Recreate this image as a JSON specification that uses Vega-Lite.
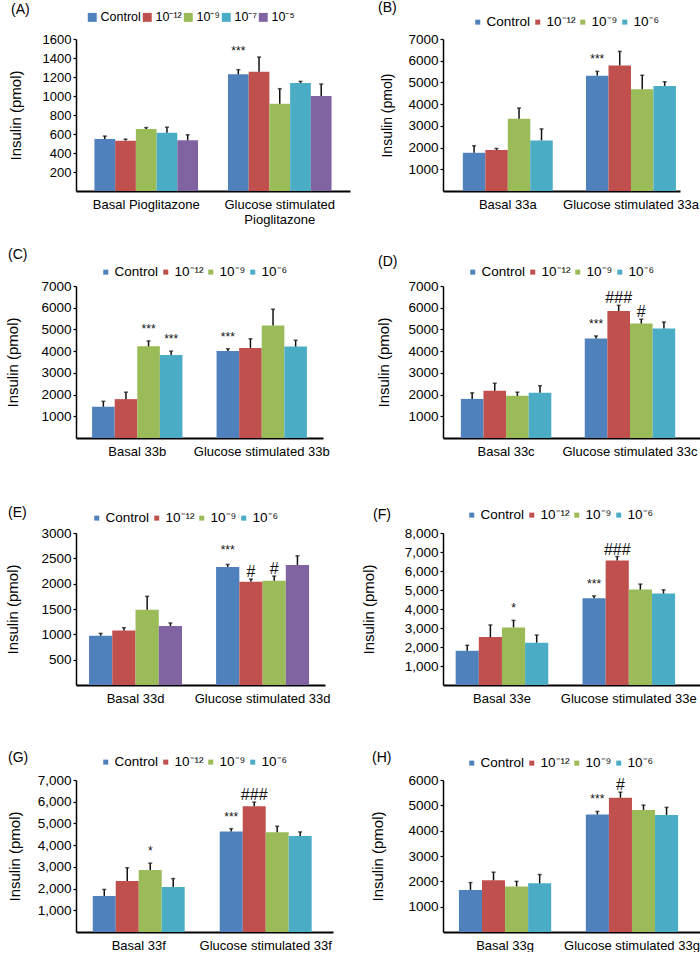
{
  "$schema": "https://vega.github.io/schema/vega-lite/v6.json",
  "padding": {"left": 5, "top": 1, "right": 0, "bottom": 0},
  "background": "white",
  "datasets": {
    "A": [
      {"group": "Basal Pioglitazone", "treatment": "Control", "value": 548, "upper": 578},
      {"group": "Basal Pioglitazone", "treatment": "10⁻¹²", "value": 530, "upper": 545},
      {"group": "Basal Pioglitazone", "treatment": "10⁻⁹", "value": 652, "upper": 668},
      {"group": "Basal Pioglitazone", "treatment": "10⁻⁷", "value": 612, "upper": 672},
      {"group": "Basal Pioglitazone", "treatment": "10⁻⁵", "value": 533, "upper": 592},
      {"group": "Glucose stimulated Pioglitazone", "treatment": "Control", "value": 1228, "upper": 1277, "label": "***"},
      {"group": "Glucose stimulated Pioglitazone", "treatment": "10⁻¹²", "value": 1256, "upper": 1410},
      {"group": "Glucose stimulated Pioglitazone", "treatment": "10⁻⁹", "value": 919, "upper": 1077},
      {"group": "Glucose stimulated Pioglitazone", "treatment": "10⁻⁷", "value": 1137, "upper": 1154},
      {"group": "Glucose stimulated Pioglitazone", "treatment": "10⁻⁵", "value": 1000, "upper": 1126}
    ],
    "B": [
      {"group": "Basal 33a", "treatment": "Control", "value": 1760, "upper": 2080},
      {"group": "Basal 33a", "treatment": "10⁻¹²", "value": 1890, "upper": 1960},
      {"group": "Basal 33a", "treatment": "10⁻⁹", "value": 3330, "upper": 3820},
      {"group": "Basal 33a", "treatment": "10⁻⁶", "value": 2330, "upper": 2860},
      {"group": "Glucose stimulated 33a", "treatment": "Control", "value": 5310, "upper": 5510, "label": "***"},
      {"group": "Glucose stimulated 33a", "treatment": "10⁻¹²", "value": 5780, "upper": 6430},
      {"group": "Glucose stimulated 33a", "treatment": "10⁻⁹", "value": 4690, "upper": 5330},
      {"group": "Glucose stimulated 33a", "treatment": "10⁻⁶", "value": 4840, "upper": 5030}
    ],
    "C": [
      {"group": "Basal 33b", "treatment": "Control", "value": 1440, "upper": 1690},
      {"group": "Basal 33b", "treatment": "10⁻¹²", "value": 1790, "upper": 2110},
      {"group": "Basal 33b", "treatment": "10⁻⁹", "value": 4220, "upper": 4470, "label": "***"},
      {"group": "Basal 33b", "treatment": "10⁻⁶", "value": 3820, "upper": 4000, "label": "***"},
      {"group": "Glucose stimulated 33b", "treatment": "Control", "value": 4010, "upper": 4110, "label": "***"},
      {"group": "Glucose stimulated 33b", "treatment": "10⁻¹²", "value": 4150, "upper": 4570},
      {"group": "Glucose stimulated 33b", "treatment": "10⁻⁹", "value": 5180, "upper": 5930},
      {"group": "Glucose stimulated 33b", "treatment": "10⁻⁶", "value": 4210, "upper": 4500}
    ],
    "D": [
      {"group": "Basal 33c", "treatment": "Control", "value": 1800, "upper": 2080},
      {"group": "Basal 33c", "treatment": "10⁻¹²", "value": 2180, "upper": 2520},
      {"group": "Basal 33c", "treatment": "10⁻⁹", "value": 1940, "upper": 2110},
      {"group": "Basal 33c", "treatment": "10⁻⁶", "value": 2080, "upper": 2410},
      {"group": "Glucose stimulated 33c", "treatment": "Control", "value": 4580, "upper": 4700, "label": "***"},
      {"group": "Glucose stimulated 33c", "treatment": "10⁻¹²", "value": 5850, "upper": 6110, "label": "###"},
      {"group": "Glucose stimulated 33c", "treatment": "10⁻⁹", "value": 5270, "upper": 5470, "label": "#"},
      {"group": "Glucose stimulated 33c", "treatment": "10⁻⁶", "value": 5040, "upper": 5340}
    ],
    "E": [
      {"group": "Basal 33d", "treatment": "Control", "value": 972, "upper": 1019},
      {"group": "Basal 33d", "treatment": "10⁻¹²", "value": 1078, "upper": 1131},
      {"group": "Basal 33d", "treatment": "10⁻⁹", "value": 1485, "upper": 1750},
      {"group": "Basal 33d", "treatment": "10⁻⁶", "value": 1165, "upper": 1225},
      {"group": "Glucose stimulated 33d", "treatment": "Control", "value": 2330, "upper": 2380, "label": "***"},
      {"group": "Glucose stimulated 33d", "treatment": "10⁻¹²", "value": 2040, "upper": 2090, "label": "#"},
      {"group": "Glucose stimulated 33d", "treatment": "10⁻⁹", "value": 2060, "upper": 2150, "label": "#"},
      {"group": "Glucose stimulated 33d", "treatment": "10⁻⁶", "value": 2370, "upper": 2550}
    ],
    "F": [
      {"group": "Basal 33e", "treatment": "Control", "value": 1800, "upper": 2090},
      {"group": "Basal 33e", "treatment": "10⁻¹²", "value": 2520, "upper": 3160},
      {"group": "Basal 33e", "treatment": "10⁻⁹", "value": 3030, "upper": 3400, "label": "*"},
      {"group": "Basal 33e", "treatment": "10⁻⁶", "value": 2230, "upper": 2630},
      {"group": "Glucose stimulated 33e", "treatment": "Control", "value": 4560, "upper": 4690, "label": "***"},
      {"group": "Glucose stimulated 33e", "treatment": "10⁻¹²", "value": 6550, "upper": 6760, "label": "###"},
      {"group": "Glucose stimulated 33e", "treatment": "10⁻⁹", "value": 5020, "upper": 5310},
      {"group": "Glucose stimulated 33e", "treatment": "10⁻⁶", "value": 4810, "upper": 5010}
    ],
    "G": [
      {"group": "Basal 33f", "treatment": "Control", "value": 1660, "upper": 1960},
      {"group": "Basal 33f", "treatment": "10⁻¹²", "value": 2350, "upper": 2960},
      {"group": "Basal 33f", "treatment": "10⁻⁹", "value": 2850, "upper": 3170, "label": "*"},
      {"group": "Basal 33f", "treatment": "10⁻⁶", "value": 2070, "upper": 2460},
      {"group": "Glucose stimulated 33f", "treatment": "Control", "value": 4630, "upper": 4760, "label": "***"},
      {"group": "Glucose stimulated 33f", "treatment": "10⁻¹²", "value": 5790, "upper": 5980, "label": "###"},
      {"group": "Glucose stimulated 33f", "treatment": "10⁻⁹", "value": 4590, "upper": 4870},
      {"group": "Glucose stimulated 33f", "treatment": "10⁻⁶", "value": 4420, "upper": 4610}
    ],
    "H": [
      {"group": "Basal 33g", "treatment": "Control", "value": 1660, "upper": 1950},
      {"group": "Basal 33g", "treatment": "10⁻¹²", "value": 2040, "upper": 2360},
      {"group": "Basal 33g", "treatment": "10⁻⁹", "value": 1800, "upper": 2000},
      {"group": "Basal 33g", "treatment": "10⁻⁶", "value": 1920, "upper": 2270},
      {"group": "Glucose stimulated 33g", "treatment": "Control", "value": 4640, "upper": 4760, "label": "***"},
      {"group": "Glucose stimulated 33g", "treatment": "10⁻¹²", "value": 5300, "upper": 5520, "label": "#"},
      {"group": "Glucose stimulated 33g", "treatment": "10⁻⁹", "value": 4820, "upper": 5010},
      {"group": "Glucose stimulated 33g", "treatment": "10⁻⁶", "value": 4620, "upper": 4920}
    ]
  },
  "concat": [
    {
      "width": 274, "height": 152,
      "data": {"name": "A"},
      "title": {"text": "(A)", "dx": -65, "dy": 10},
      "encoding": {
        "x": {"field": "group", "type": "nominal", "scale": {"paddingInner": 0.224, "paddingOuter": 0.138, "align": 0.5},
              "axis": {"labelExpr": "datum.label == 'Glucose stimulated Pioglitazone' ? ['Glucose stimulated', 'Pioglitazone'] : datum.label"}},
        "xOffset": {"field": "treatment", "sort": ["Control", "10⁻¹²", "10⁻⁹", "10⁻⁷", "10⁻⁵"], "scale": {"paddingInner": 0, "paddingOuter": 0}}
      },
      "layer": [
        {"mark": {"type": "bar"},
         "encoding": {
           "y": {"field": "value", "type": "quantitative", "title": "Insulin (pmol)", "scale": {"domain": [0, 1600]},
                 "axis": {"values": [200, 400, 600, 800, 1000, 1200, 1400, 1600], "format": "d", "labelFontSize": 13, "titlePadding": 18.5}},
           "color": {"field": "treatment", "type": "nominal", "sort": ["Control", "10⁻¹²", "10⁻⁹", "10⁻⁷", "10⁻⁵"],
                     "scale": {"domain": ["Control", "10⁻¹²", "10⁻⁹", "10⁻⁷", "10⁻⁵"], "range": ["#4F81BD", "#C0504D", "#9BBB59", "#4BACC6", "#8064A2"]},
                     "legend": {"title": null, "orient": "none", "direction": "horizontal", "legendX": 10, "legendY": -28, "symbolSize": 80, "columnPadding": -2, "labelFontSize": 12.5}}
         }},
        {"mark": {"type": "rule", "strokeWidth": 1.5, "color": "#111"},
         "encoding": {"y": {"field": "value", "type": "quantitative", "title": "Insulin (pmol)"}, "y2": {"field": "upper"}}},
        {"mark": {"type": "tick", "size": 4, "thickness": 1.5, "color": "#111"},
         "encoding": {"y": {"field": "upper", "type": "quantitative", "title": "Insulin (pmol)"}}},
        {"transform": [{"filter": "isString(datum.label) && indexof(datum.label, '*') >= 0"}],
         "mark": {"type": "text", "fontSize": 12, "baseline": "bottom", "dy": -12, "color": "#111"},
         "encoding": {"y": {"field": "upper", "type": "quantitative", "title": "Insulin (pmol)"}, "text": {"field": "label"}}}
      ]
    },
    {
      "width": 237, "height": 152,
      "data": {"name": "B"},
      "title": {"text": "(B)", "dx": -65, "dy": 4},
      "encoding": {
        "x": {"field": "group", "type": "nominal", "scale": {"paddingInner": 0.27, "paddingOuter": 0.097, "align": 0.83}},
        "xOffset": {"field": "treatment", "sort": ["Control", "10⁻¹²", "10⁻⁹", "10⁻⁶"], "scale": {"paddingInner": 0, "paddingOuter": 0}}
      },
      "layer": [
        {"mark": {"type": "bar"},
         "encoding": {
           "y": {"field": "value", "type": "quantitative", "title": "Insulin (pmol)", "scale": {"domain": [0, 7000]},
                 "axis": {"values": [1000, 2000, 3000, 4000, 5000, 6000, 7000], "format": "d", "titleFontSize": 14, "titlePadding": 13}},
           "color": {"field": "treatment", "type": "nominal", "sort": ["Control", "10⁻¹²", "10⁻⁹", "10⁻⁶"],
                     "scale": {"domain": ["Control", "10⁻¹²", "10⁻⁹", "10⁻⁶"], "range": ["#4F81BD", "#C0504D", "#9BBB59", "#4BACC6"]},
                     "legend": {"title": null, "orient": "none", "direction": "horizontal", "legendX": 28, "legendY": -24}}
         }},
        {"mark": {"type": "rule", "strokeWidth": 1.5, "color": "#111"},
         "encoding": {"y": {"field": "value", "type": "quantitative", "title": "Insulin (pmol)"}, "y2": {"field": "upper"}}},
        {"mark": {"type": "tick", "size": 4, "thickness": 1.5, "color": "#111"},
         "encoding": {"y": {"field": "upper", "type": "quantitative", "title": "Insulin (pmol)"}}},
        {"transform": [{"filter": "isString(datum.label) && indexof(datum.label, '*') >= 0"}],
         "mark": {"type": "text", "fontSize": 12, "baseline": "bottom", "dy": -5, "color": "#111"},
         "encoding": {"y": {"field": "upper", "type": "quantitative", "title": "Insulin (pmol)"}, "text": {"field": "label"}}}
      ]
    },
    {
      "width": 247, "height": 152,
      "data": {"name": "C"},
      "title": {"text": "(C)", "dx": -68, "dy": 1},
      "encoding": {
        "x": {"field": "group", "type": "nominal", "scale": {"paddingInner": 0.274, "paddingOuter": 0.129, "align": 0.5}},
        "xOffset": {"field": "treatment", "sort": ["Control", "10⁻¹²", "10⁻⁹", "10⁻⁶"], "scale": {"paddingInner": 0, "paddingOuter": 0}}
      },
      "layer": [
        {"mark": {"type": "bar"},
         "encoding": {
           "y": {"field": "value", "type": "quantitative", "title": "Insulin (pmol)", "scale": {"domain": [0, 7000]},
                 "axis": {"values": [1000, 2000, 3000, 4000, 5000, 6000, 7000], "format": "d", "titlePadding": 20.5}},
           "color": {"field": "treatment", "type": "nominal", "sort": ["Control", "10⁻¹²", "10⁻⁹", "10⁻⁶"],
                     "scale": {"domain": ["Control", "10⁻¹²", "10⁻⁹", "10⁻⁶"], "range": ["#4F81BD", "#C0504D", "#9BBB59", "#4BACC6"]},
                     "legend": {"title": null, "orient": "none", "direction": "horizontal", "legendX": 23, "legendY": -21}}
         }},
        {"mark": {"type": "rule", "strokeWidth": 1.5, "color": "#111"},
         "encoding": {"y": {"field": "value", "type": "quantitative", "title": "Insulin (pmol)"}, "y2": {"field": "upper"}}},
        {"mark": {"type": "tick", "size": 4, "thickness": 1.5, "color": "#111"},
         "encoding": {"y": {"field": "upper", "type": "quantitative", "title": "Insulin (pmol)"}}},
        {"transform": [{"filter": "isString(datum.label) && indexof(datum.label, '*') >= 0"}],
         "mark": {"type": "text", "fontSize": 12, "baseline": "bottom", "dy": -5, "color": "#111"},
         "encoding": {"y": {"field": "upper", "type": "quantitative", "title": "Insulin (pmol)"}, "text": {"field": "label"}}}
      ]
    },
    {
      "width": 259, "height": 152,
      "data": {"name": "D"},
      "title": {"text": "(D)", "dx": -65, "dy": 8},
      "encoding": {
        "x": {"field": "group", "type": "nominal", "scale": {"paddingInner": 0.27, "paddingOuter": 0.18, "align": 0.4}},
        "xOffset": {"field": "treatment", "sort": ["Control", "10⁻¹²", "10⁻⁹", "10⁻⁶"], "scale": {"paddingInner": 0, "paddingOuter": 0}}
      },
      "layer": [
        {"mark": {"type": "bar"},
         "encoding": {
           "y": {"field": "value", "type": "quantitative", "title": "Insulin (pmol)", "scale": {"domain": [0, 7000]},
                 "axis": {"values": [1000, 2000, 3000, 4000, 5000, 6000, 7000], "format": "d", "titlePadding": 16}},
           "color": {"field": "treatment", "type": "nominal", "sort": ["Control", "10⁻¹²", "10⁻⁹", "10⁻⁶"],
                     "scale": {"domain": ["Control", "10⁻¹²", "10⁻⁹", "10⁻⁶"], "range": ["#4F81BD", "#C0504D", "#9BBB59", "#4BACC6"]},
                     "legend": {"title": null, "orient": "none", "direction": "horizontal", "legendX": 23, "legendY": -21}}
         }},
        {"mark": {"type": "rule", "strokeWidth": 1.5, "color": "#111"},
         "encoding": {"y": {"field": "value", "type": "quantitative", "title": "Insulin (pmol)"}, "y2": {"field": "upper"}}},
        {"mark": {"type": "tick", "size": 4, "thickness": 1.5, "color": "#111"},
         "encoding": {"y": {"field": "upper", "type": "quantitative", "title": "Insulin (pmol)"}}},
        {"transform": [{"filter": "isString(datum.label) && indexof(datum.label, '*') >= 0"}],
         "mark": {"type": "text", "fontSize": 12, "baseline": "bottom", "dy": -5, "color": "#111"},
         "encoding": {"y": {"field": "upper", "type": "quantitative", "title": "Insulin (pmol)"}, "text": {"field": "label"}}},
        {"transform": [{"filter": "isString(datum.label) && indexof(datum.label, '#') >= 0"}],
         "mark": {"type": "text", "fontSize": 16, "baseline": "bottom", "dy": 1, "color": "#111"},
         "encoding": {"y": {"field": "upper", "type": "quantitative", "title": "Insulin (pmol)"}, "text": {"field": "label"}}}
      ]
    },
    {
      "width": 249, "height": 152,
      "data": {"name": "E"},
      "title": {"text": "(E)", "dx": -68, "dy": 13},
      "encoding": {
        "x": {"field": "group", "type": "nominal", "scale": {"paddingInner": 0.268, "paddingOuter": 0.114, "align": 0.45}},
        "xOffset": {"field": "treatment", "sort": ["Control", "10⁻¹²", "10⁻⁹", "10⁻⁶"], "scale": {"paddingInner": 0, "paddingOuter": 0}}
      },
      "layer": [
        {"mark": {"type": "bar"},
         "encoding": {
           "y": {"field": "value", "type": "quantitative", "title": "Insulin (pmol)", "scale": {"domain": [0, 3000]},
                 "axis": {"values": [500, 1000, 1500, 2000, 2500, 3000], "format": "d", "titlePadding": 20.5}},
           "color": {"field": "treatment", "type": "nominal", "sort": ["Control", "10⁻¹²", "10⁻⁹", "10⁻⁶"],
                     "scale": {"domain": ["Control", "10⁻¹²", "10⁻⁹", "10⁻⁶"], "range": ["#4F81BD", "#C0504D", "#9BBB59", "#8064A2"]},
                     "legend": null}
         }},
        {"mark": {"type": "square", "opacity": 0, "filled": true},
         "encoding": {
           "y": {"field": "value", "type": "quantitative", "title": "Insulin (pmol)"},
           "color": {"field": "treatment", "type": "nominal", "sort": ["Control", "10⁻¹²", "10⁻⁹", "10⁻⁶"],
                     "scale": {"domain": ["Control", "10⁻¹²", "10⁻⁹", "10⁻⁶"], "range": ["#4F81BD", "#C0504D", "#9BBB59", "#4BACC6"]},
                     "legend": {"title": null, "orient": "none", "direction": "horizontal", "legendX": 14, "legendY": -22, "symbolOpacity": 1, "symbolType": "square"}}
         }},
        {"mark": {"type": "rule", "strokeWidth": 1.5, "color": "#111"},
         "encoding": {"y": {"field": "value", "type": "quantitative", "title": "Insulin (pmol)"}, "y2": {"field": "upper"}}},
        {"mark": {"type": "tick", "size": 4, "thickness": 1.5, "color": "#111"},
         "encoding": {"y": {"field": "upper", "type": "quantitative", "title": "Insulin (pmol)"}}},
        {"transform": [{"filter": "isString(datum.label) && indexof(datum.label, '*') >= 0"}],
         "mark": {"type": "text", "fontSize": 12, "baseline": "bottom", "dy": -7, "color": "#111"},
         "encoding": {"y": {"field": "upper", "type": "quantitative", "title": "Insulin (pmol)"}, "text": {"field": "label"}}},
        {"transform": [{"filter": "isString(datum.label) && indexof(datum.label, '#') >= 0"}],
         "mark": {"type": "text", "fontSize": 16, "baseline": "bottom", "dy": 1, "color": "#111"},
         "encoding": {"y": {"field": "upper", "type": "quantitative", "title": "Insulin (pmol)"}, "text": {"field": "label"}}}
      ],
      "resolve": {"scale": {"color": "independent"}, "legend": {"color": "independent"}}
    },
    {
      "width": 259, "height": 152,
      "data": {"name": "F"},
      "title": {"text": "(F)", "dx": -70, "dy": 18},
      "encoding": {
        "x": {"field": "group", "type": "nominal", "scale": {"paddingInner": 0.27, "paddingOuter": 0.156, "align": 0.32}},
        "xOffset": {"field": "treatment", "sort": ["Control", "10⁻¹²", "10⁻⁹", "10⁻⁶"], "scale": {"paddingInner": 0, "paddingOuter": 0}}
      },
      "layer": [
        {"mark": {"type": "bar"},
         "encoding": {
           "y": {"field": "value", "type": "quantitative", "title": "Insulin (pmol)", "scale": {"domain": [0, 8000]},
                 "axis": {"values": [1000, 2000, 3000, 4000, 5000, 6000, 7000, 8000], "format": ",d", "titlePadding": 28}},
           "color": {"field": "treatment", "type": "nominal", "sort": ["Control", "10⁻¹²", "10⁻⁹", "10⁻⁶"],
                     "scale": {"domain": ["Control", "10⁻¹²", "10⁻⁹", "10⁻⁶"], "range": ["#4F81BD", "#C0504D", "#9BBB59", "#4BACC6"]},
                     "legend": {"title": null, "orient": "none", "direction": "horizontal", "legendX": 22, "legendY": -25}}
         }},
        {"mark": {"type": "rule", "strokeWidth": 1.5, "color": "#111"},
         "encoding": {"y": {"field": "value", "type": "quantitative", "title": "Insulin (pmol)"}, "y2": {"field": "upper"}}},
        {"mark": {"type": "tick", "size": 4, "thickness": 1.5, "color": "#111"},
         "encoding": {"y": {"field": "upper", "type": "quantitative", "title": "Insulin (pmol)"}}},
        {"transform": [{"filter": "isString(datum.label) && indexof(datum.label, '*') >= 0"}],
         "mark": {"type": "text", "fontSize": 12, "baseline": "bottom", "dy": -5, "color": "#111"},
         "encoding": {"y": {"field": "upper", "type": "quantitative", "title": "Insulin (pmol)"}, "text": {"field": "label"}}},
        {"transform": [{"filter": "isString(datum.label) && indexof(datum.label, '#') >= 0"}],
         "mark": {"type": "text", "fontSize": 16, "baseline": "bottom", "dy": 1, "color": "#111"},
         "encoding": {"y": {"field": "upper", "type": "quantitative", "title": "Insulin (pmol)"}, "text": {"field": "label"}}}
      ]
    },
    {
      "width": 257, "height": 152,
      "data": {"name": "G"},
      "title": {"text": "(G)", "dx": -68, "dy": 14},
      "encoding": {
        "x": {"field": "group", "type": "nominal", "scale": {"paddingInner": 0.276, "paddingOuter": 0.15, "align": 0.44}},
        "xOffset": {"field": "treatment", "sort": ["Control", "10⁻¹²", "10⁻⁹", "10⁻⁶"], "scale": {"paddingInner": 0, "paddingOuter": 0}}
      },
      "layer": [
        {"mark": {"type": "bar"},
         "encoding": {
           "y": {"field": "value", "type": "quantitative", "title": "Insulin (pmol)", "scale": {"domain": [0, 7000]},
                 "axis": {"values": [1000, 2000, 3000, 4000, 5000, 6000, 7000], "format": ",d", "titlePadding": 15}},
           "color": {"field": "treatment", "type": "nominal", "sort": ["Control", "10⁻¹²", "10⁻⁹", "10⁻⁶"],
                     "scale": {"domain": ["Control", "10⁻¹²", "10⁻⁹", "10⁻⁶"], "range": ["#4F81BD", "#C0504D", "#9BBB59", "#4BACC6"]},
                     "legend": {"title": null, "orient": "none", "direction": "horizontal", "legendX": 23, "legendY": -25}}
         }},
        {"mark": {"type": "rule", "strokeWidth": 1.5, "color": "#111"},
         "encoding": {"y": {"field": "value", "type": "quantitative", "title": "Insulin (pmol)"}, "y2": {"field": "upper"}}},
        {"mark": {"type": "tick", "size": 4, "thickness": 1.5, "color": "#111"},
         "encoding": {"y": {"field": "upper", "type": "quantitative", "title": "Insulin (pmol)"}}},
        {"transform": [{"filter": "isString(datum.label) && indexof(datum.label, '*') >= 0"}],
         "mark": {"type": "text", "fontSize": 12, "baseline": "bottom", "dy": -5, "color": "#111"},
         "encoding": {"y": {"field": "upper", "type": "quantitative", "title": "Insulin (pmol)"}, "text": {"field": "label"}}},
        {"transform": [{"filter": "isString(datum.label) && indexof(datum.label, '#') >= 0"}],
         "mark": {"type": "text", "fontSize": 16, "baseline": "bottom", "dy": 1, "color": "#111"},
         "encoding": {"y": {"field": "upper", "type": "quantitative", "title": "Insulin (pmol)"}, "text": {"field": "label"}}}
      ]
    },
    {
      "width": 259, "height": 152,
      "data": {"name": "H"},
      "title": {"text": "(H)", "dx": -71, "dy": 13},
      "encoding": {
        "x": {"field": "group", "type": "nominal", "scale": {"paddingInner": 0.273, "paddingOuter": 0.157, "align": 0.4}},
        "xOffset": {"field": "treatment", "sort": ["Control", "10⁻¹²", "10⁻⁹", "10⁻⁶"], "scale": {"paddingInner": 0, "paddingOuter": 0}}
      },
      "layer": [
        {"mark": {"type": "bar"},
         "encoding": {
           "y": {"field": "value", "type": "quantitative", "title": "Insulin (pmol)", "scale": {"domain": [0, 6000]},
                 "axis": {"values": [1000, 2000, 3000, 4000, 5000, 6000], "format": "d", "titlePadding": 22.5}},
           "color": {"field": "treatment", "type": "nominal", "sort": ["Control", "10⁻¹²", "10⁻⁹", "10⁻⁶"],
                     "scale": {"domain": ["Control", "10⁻¹²", "10⁻⁹", "10⁻⁶"], "range": ["#4F81BD", "#C0504D", "#9BBB59", "#4BACC6"]},
                     "legend": {"title": null, "orient": "none", "direction": "horizontal", "legendX": 22, "legendY": -24}}
         }},
        {"mark": {"type": "rule", "strokeWidth": 1.5, "color": "#111"},
         "encoding": {"y": {"field": "value", "type": "quantitative", "title": "Insulin (pmol)"}, "y2": {"field": "upper"}}},
        {"mark": {"type": "tick", "size": 4, "thickness": 1.5, "color": "#111"},
         "encoding": {"y": {"field": "upper", "type": "quantitative", "title": "Insulin (pmol)"}}},
        {"transform": [{"filter": "isString(datum.label) && indexof(datum.label, '*') >= 0"}],
         "mark": {"type": "text", "fontSize": 12, "baseline": "bottom", "dy": -5, "color": "#111"},
         "encoding": {"y": {"field": "upper", "type": "quantitative", "title": "Insulin (pmol)"}, "text": {"field": "label"}}},
        {"transform": [{"filter": "isString(datum.label) && indexof(datum.label, '#') >= 0"}],
         "mark": {"type": "text", "fontSize": 16, "baseline": "bottom", "dy": 1, "color": "#111"},
         "encoding": {"y": {"field": "upper", "type": "quantitative", "title": "Insulin (pmol)"}, "text": {"field": "label"}}}
      ]
    }
  ],
  "columns": 2,
  "spacing": {"row": 95, "column": 93},
  "bounds": "flush",
  "align": "each",
  "resolve": {"scale": {"color": "independent", "xOffset": "independent"}, "legend": {"color": "independent"}},
  "config": {
    "font": "Liberation Sans",
    "view": {"stroke": null},
    "axis": {"grid": false, "domainColor": "#000", "tickColor": "#000", "labelColor": "#000", "titleColor": "#000",
             "labelFont": "Liberation Sans", "titleFont": "Liberation Sans", "titleFontWeight": "normal"},
    "axisX": {"ticks": false, "domainWidth": 2, "labelFontSize": 13, "labelPadding": 7, "labelAngle": 0, "title": null, "labelLimit": 300},
    "axisY": {"domainWidth": 1.5, "tickSize": 3, "tickWidth": 1.2, "labelFontSize": 13.5, "titleFontSize": 15, "labelPadding": 2, "titlePadding": 15, "labelOverlap": false, "tickCount": 20},
    "legend": {"symbolType": "square", "symbolSize": 25, "symbolStrokeWidth": 0, "labelFontSize": 13.5, "labelFont": "Liberation Sans",
               "labelColor": "#000", "labelOffset": 2, "columnPadding": 0, "padding": 0},
    "title": {"anchor": "start", "frame": "group", "fontSize": 14, "fontWeight": "normal", "color": "#000", "font": "Liberation Sans", "offset": 0}
  }
}
